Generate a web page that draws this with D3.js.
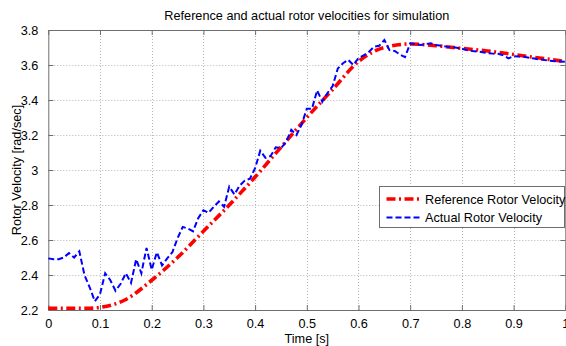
<!DOCTYPE html>
<html><head><meta charset="utf-8">
<script src="https://cdn.jsdelivr.net/npm/d3@7/dist/d3.min.js"></script>
<style>body{margin:0;background:#fff}svg{display:block}text{font-family:"Liberation Sans",Arial,sans-serif;fill:#000}</style>
</head><body>
<script>
const title = "Reference and actual rotor velocities for simulation";
const xLabel = "Time [s]";
const yLabel = "Rotor Velocity [rad/sec]";
const seriesNames = ["Reference Rotor Velocity", "Actual Rotor Velocity"];
const xTicks = [0, 0.1, 0.2, 0.3, 0.4, 0.5, 0.6, 0.7, 0.8, 0.9, 1];
const xTickLabels = ["0", "0.1", "0.2", "0.3", "0.4", "0.5", "0.6", "0.7", "0.8", "0.9", "1"];
const yTicks = [2.2, 2.4, 2.6, 2.8, 3, 3.2, 3.4, 3.6, 3.8];
const yTickLabels = ["2.2", "2.4", "2.6", "2.8", "3", "3.2", "3.4", "3.6", "3.8"];

const refTime = [0, 0.05, 0.08, 0.1, 0.15, 0.2, 0.25, 0.3, 0.35, 0.4, 0.45, 0.5, 0.55, 0.6, 0.65, 0.7, 0.75, 0.8, 0.85, 0.9, 0.95, 1.0];
const refVel = [2.21, 2.21, 2.21, 2.215, 2.26, 2.37, 2.50, 2.65, 2.80, 2.96, 3.13, 3.30, 3.46, 3.62, 3.70, 3.72, 3.71, 3.695, 3.68, 3.66, 3.64, 3.62];

const actTime = d3.range(0, 101).map(i => i / 100);
const actVel = [
 2.495, 2.49, 2.49, 2.50, 2.525, 2.50, 2.535, 2.40, 2.33, 2.25,
 2.29, 2.41, 2.37, 2.31, 2.35, 2.41, 2.355, 2.49, 2.41, 2.555,
 2.43, 2.53, 2.455, 2.495, 2.53, 2.61, 2.675, 2.665, 2.65, 2.725,
 2.77, 2.755, 2.79, 2.82, 2.79, 2.905, 2.86, 2.91, 2.94, 2.95,
 3.01, 3.11, 3.07, 3.08, 3.13, 3.125, 3.16, 3.23, 3.20, 3.26,
 3.35, 3.35, 3.455, 3.39, 3.44, 3.48, 3.58, 3.61, 3.63, 3.60,
 3.64, 3.655, 3.675, 3.705, 3.71, 3.743, 3.685, 3.68, 3.66, 3.645,
 3.724, 3.72, 3.714, 3.72, 3.724, 3.714, 3.71, 3.705, 3.703, 3.698,
 3.693, 3.685, 3.68, 3.677, 3.673, 3.668, 3.665, 3.664, 3.655, 3.638,
 3.65, 3.648, 3.647, 3.642, 3.637, 3.632, 3.628, 3.625, 3.622, 3.62,
 3.618];

const W = 566, H = 346;
const L = 48.3, R = 565.3, T = 30, B = 310;
const FS = 12.7;
const svg = d3.select("body").append("svg").attr("width", W).attr("height", H);
const x = d3.scaleLinear().domain([0, 1]).range([L, R]);
const y = d3.scaleLinear().domain([2.2, 3.8]).range([B, T]);

// grid
const grid = svg.append("g").attr("stroke", "#b4b4b4").attr("stroke-width", 1).attr("stroke-dasharray", "1,2");
grid.selectAll(".gx").data(xTicks.slice(1, -1)).join("line")
  .attr("x1", d => Math.round(x(d)) + 0.5).attr("x2", d => Math.round(x(d)) + 0.5).attr("y1", T).attr("y2", B);
grid.selectAll(".gy").data(yTicks.slice(1, -1)).join("line")
  .attr("y1", d => Math.round(y(d)) + 0.5).attr("y2", d => Math.round(y(d)) + 0.5).attr("x1", L).attr("x2", R);

// axes
const axColor = "#6e6e6e";
const fmtX = d => xTickLabels[xTicks.indexOf(d)];
const fmtY = d => yTickLabels[yTicks.indexOf(d)];
const gxB = svg.append("g").attr("transform", `translate(0,${B})`)
  .call(d3.axisBottom(x).tickValues(xTicks).tickFormat(fmtX).tickSizeInner(-5).tickSizeOuter(0).tickPadding(9));
const gxT = svg.append("g").attr("transform", `translate(0,${T})`)
  .call(d3.axisTop(x).tickValues(xTicks).tickFormat("").tickSizeInner(-5).tickSizeOuter(0));
const gyL = svg.append("g").attr("transform", `translate(${L},0)`)
  .call(d3.axisLeft(y).tickValues(yTicks).tickFormat(fmtY).tickSizeInner(-5).tickSizeOuter(0).tickPadding(10));
const gyR = svg.append("g").attr("transform", `translate(${R},0)`)
  .call(d3.axisRight(y).tickValues(yTicks).tickFormat("").tickSizeInner(-5).tickSizeOuter(0));
[gxB, gxT, gyL, gyR].forEach(g => {
  g.selectAll("path").attr("stroke", axColor);
  g.selectAll("line").attr("stroke", axColor);
  g.selectAll("text").attr("font-size", FS).attr("fill", "#000").style("font-family", '"Liberation Sans",Arial,sans-serif');
});

// lines
const refLine = d3.line().x((d, i) => x(refTime[i])).y(d => y(d)).curve(d3.curveMonotoneX);
const actLine = d3.line().x((d, i) => x(actTime[i])).y(d => y(d));
svg.append("path").datum(refVel).attr("d", refLine).attr("fill", "none")
  .attr("stroke", "#ff0000").attr("stroke-width", 3.6).attr("stroke-dasharray", "9,3.5,2,3.5");
svg.append("path").datum(actVel).attr("d", actLine).attr("fill", "none")
  .attr("stroke", "#0000ff").attr("stroke-width", 2).attr("stroke-dasharray", "6,3");

// title and labels
svg.append("text").attr("x", (L + R) / 2).attr("y", 19.5).attr("text-anchor", "middle").attr("font-size", FS).text(title);
svg.append("text").attr("x", (L + R) / 2).attr("y", 342.5).attr("text-anchor", "middle").attr("font-size", FS).text(xLabel);
svg.append("text").attr("transform", `translate(21,${(T + B) / 2}) rotate(-90)`).attr("text-anchor", "middle").attr("font-size", FS).text(yLabel);

// legend
const lg = svg.append("g");
lg.append("rect").attr("x", 379.5).attr("y", 186.5).attr("width", 185).attr("height", 41)
  .attr("fill", "#fff").attr("stroke", axColor).attr("stroke-width", 1);
const lgStyles = [
  {stroke: "#ff0000", w: 3.6, dash: "9,3.5,2,3.5"},
  {stroke: "#0000ff", w: 2, dash: "6,3"}
];
seriesNames.forEach((name, i) => {
  const yy = 199 + i * 18.5;
  lg.append("line").attr("x1", 386.5).attr("x2", 420).attr("y1", yy).attr("y2", yy)
    .attr("stroke", lgStyles[i].stroke).attr("stroke-width", lgStyles[i].w).attr("stroke-dasharray", lgStyles[i].dash);
  lg.append("text").attr("x", 425).attr("y", yy + 4.5).attr("font-size", FS).text(name);
});
</script>
</body></html>
